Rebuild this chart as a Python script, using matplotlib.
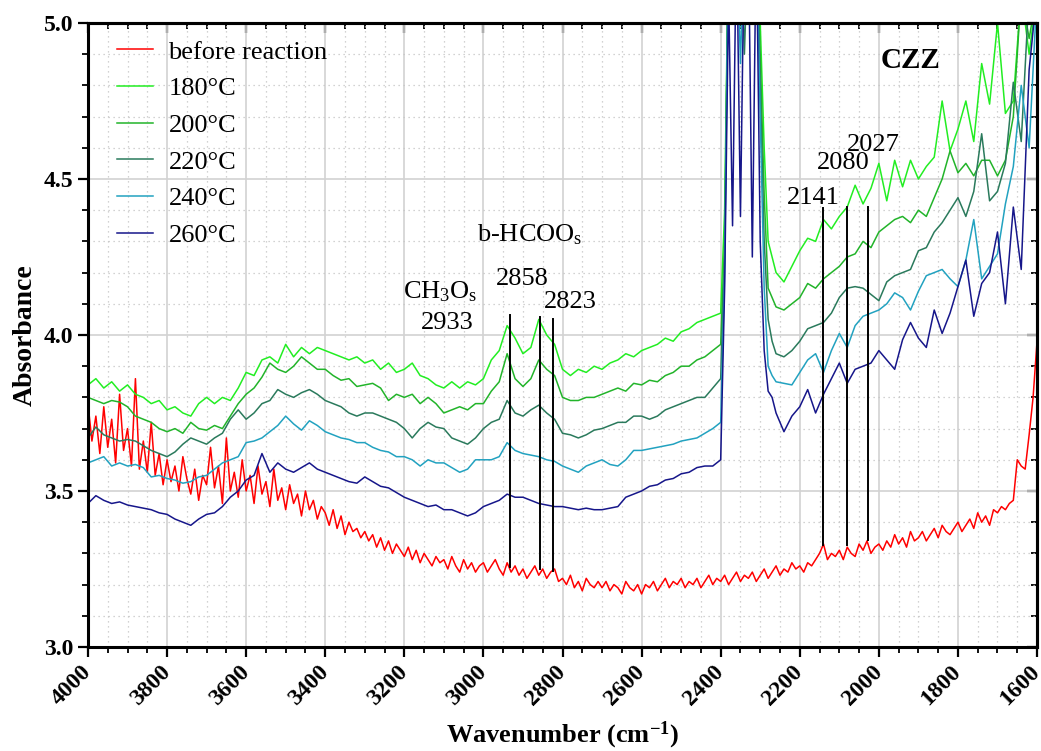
import matplotlib
matplotlib.use("Agg")
import matplotlib.pyplot as plt
import numpy as np
from matplotlib.ticker import MultipleLocator

plt.rcParams.update({
    "font.family": "Liberation Serif", "font.size": 19,
    "mathtext.fontset": "custom", "mathtext.rm": "Liberation Serif",
    "mathtext.it": "Liberation Serif:italic", "mathtext.bf": "Liberation Serif:bold",
})

# ---------- data ----------
# temperature spectra share one wavenumber grid
wn_left = np.arange(4000, 2400, -20)                     # 4000 .. 2420
wn_co2 = np.array([2400, 2390, 2380, 2370, 2360, 2350, 2340, 2330,
                   2320, 2310, 2300, 2290, 2280, 2270, 2260])
wn_right = np.arange(2240, 1590, -20)                    # 2240 .. 1600
wn = np.concatenate([wn_left, wn_co2, wn_right])

a180 = [3.84, 3.86, 3.83, 3.85, 3.82, 3.84, 3.81, 3.80, 3.78, 3.79,
        3.76, 3.77, 3.75, 3.74, 3.78, 3.80, 3.78, 3.80, 3.79, 3.83,
        3.88, 3.87, 3.92, 3.93, 3.91, 3.97, 3.93, 3.96, 3.94, 3.96,
        3.95, 3.94, 3.93, 3.92, 3.93, 3.91, 3.92, 3.89, 3.91, 3.88,
        3.89, 3.91, 3.87, 3.86, 3.84, 3.83, 3.85, 3.83, 3.85, 3.84,
        3.86, 3.92, 3.95, 4.03, 3.99, 3.94, 3.96, 4.05, 4.00, 3.97,
        3.89, 3.87, 3.89, 3.88, 3.90, 3.89, 3.91, 3.92, 3.94, 3.93,
        3.95, 3.96, 3.97, 3.99, 3.98, 4.01, 4.02, 4.04, 4.05, 4.06,
        4.07, 4.40, 5.3, 5.3, 5.3, 5.3, 5.3, 5.3, 5.3, 5.3, 5.0, 4.60, 4.30, 4.25, 4.20,
        4.17, 4.22, 4.27, 4.31, 4.30, 4.37, 4.34, 4.38, 4.41, 4.48,
        4.42, 4.47, 4.55, 4.43, 4.56, 4.475, 4.56, 4.50, 4.54, 4.57,
        4.75, 4.59, 4.66, 4.75, 4.62, 4.87, 4.74, 5.0, 4.71, 4.75,
        5.1, 4.90, 5.1]
a200 = [3.80, 3.79, 3.78, 3.79, 3.785, 3.77, 3.74, 3.73, 3.72, 3.70,
        3.69, 3.70, 3.685, 3.72, 3.70, 3.695, 3.71, 3.70, 3.74, 3.78,
        3.81, 3.83, 3.865, 3.91, 3.89, 3.88, 3.90, 3.93, 3.91, 3.89,
        3.89, 3.87, 3.855, 3.86, 3.835, 3.84, 3.845, 3.83, 3.79, 3.81,
        3.80, 3.81, 3.78, 3.80, 3.78, 3.75, 3.76, 3.77, 3.76, 3.78,
        3.78, 3.82, 3.85, 3.94, 3.86, 3.835, 3.86, 3.92, 3.89, 3.87,
        3.80, 3.79, 3.79, 3.80, 3.80, 3.81, 3.82, 3.83, 3.82, 3.845,
        3.84, 3.855, 3.85, 3.87, 3.88, 3.90, 3.90, 3.92, 3.93, 3.95,
        3.97, 4.30, 5.3, 5.3, 5.3, 5.3, 5.3, 5.3, 5.3, 5.3, 4.90, 4.45, 4.15, 4.12, 4.09,
        4.08, 4.10, 4.12, 4.165, 4.15, 4.18, 4.20, 4.22, 4.25, 4.26,
        4.30, 4.28, 4.33, 4.35, 4.37, 4.38, 4.36, 4.40, 4.38, 4.44,
        4.50, 4.59, 4.52, 4.55, 4.51, 4.56, 4.56, 4.51, 4.56, 4.70,
        5.1, 4.95, 5.1]
a220 = [3.67, 3.705, 3.68, 3.67, 3.66, 3.665, 3.66, 3.645, 3.63, 3.62,
        3.61, 3.625, 3.65, 3.67, 3.66, 3.65, 3.67, 3.685, 3.73, 3.76,
        3.73, 3.75, 3.78, 3.79, 3.825, 3.81, 3.80, 3.815, 3.825, 3.81,
        3.79, 3.78, 3.77, 3.75, 3.74, 3.75, 3.75, 3.74, 3.73, 3.72,
        3.70, 3.67, 3.70, 3.72, 3.705, 3.70, 3.67, 3.66, 3.65, 3.67,
        3.70, 3.72, 3.73, 3.79, 3.75, 3.74, 3.76, 3.775, 3.75, 3.73,
        3.685, 3.68, 3.67, 3.68, 3.695, 3.70, 3.71, 3.72, 3.72, 3.74,
        3.74, 3.73, 3.74, 3.76, 3.77, 3.78, 3.79, 3.80, 3.80, 3.83,
        3.86, 4.25, 5.3, 5.3, 5.3, 5.3, 4.90, 5.3, 5.3, 5.3, 4.80, 4.30, 4.05, 3.98, 3.94,
        3.93, 3.95, 3.98, 4.02, 4.03, 4.04, 4.07, 4.12, 4.15, 4.155,
        4.15, 4.13, 4.11, 4.17, 4.19, 4.20, 4.21, 4.27, 4.28, 4.33,
        4.36, 4.40, 4.44, 4.38, 4.46, 4.645, 4.43, 4.46, 4.55, 4.81,
        4.62, 5.1, 5.1]
a240 = [3.59, 3.60, 3.61, 3.58, 3.59, 3.58, 3.585, 3.575, 3.545, 3.55,
        3.54, 3.535, 3.525, 3.53, 3.545, 3.55, 3.57, 3.59, 3.60, 3.61,
        3.655, 3.66, 3.67, 3.69, 3.71, 3.74, 3.715, 3.695, 3.725, 3.71,
        3.69, 3.68, 3.67, 3.665, 3.655, 3.655, 3.64, 3.63, 3.625, 3.61,
        3.61, 3.60, 3.58, 3.60, 3.59, 3.59, 3.575, 3.56, 3.57, 3.60,
        3.60, 3.60, 3.61, 3.655, 3.63, 3.62, 3.615, 3.61, 3.60, 3.595,
        3.58, 3.57, 3.56, 3.58, 3.59, 3.60, 3.585, 3.58, 3.60, 3.63,
        3.63, 3.635, 3.64, 3.645, 3.65, 3.66, 3.665, 3.67, 3.685, 3.70,
        3.72, 4.20, 5.3, 5.3, 5.3, 4.87, 5.3, 5.3, 5.3, 5.3, 4.70, 4.15, 3.90, 3.87, 3.85,
        3.845, 3.84, 3.88, 3.92, 3.94, 3.88, 3.95, 4.005, 3.96, 4.03,
        4.06, 4.07, 4.08, 4.10, 4.135, 4.12, 4.08, 4.14, 4.19, 4.20,
        4.21, 4.18, 4.155, 4.24, 4.37, 4.18, 4.22, 4.26, 4.42, 4.54,
        4.80, 4.60, 5.1]
a260 = [3.46, 3.485, 3.47, 3.46, 3.465, 3.455, 3.45, 3.445, 3.44, 3.43,
        3.425, 3.41, 3.40, 3.39, 3.41, 3.425, 3.43, 3.45, 3.48, 3.50,
        3.535, 3.55, 3.62, 3.56, 3.59, 3.57, 3.56, 3.575, 3.59, 3.57,
        3.56, 3.55, 3.54, 3.53, 3.525, 3.545, 3.53, 3.515, 3.51, 3.495,
        3.48, 3.47, 3.46, 3.45, 3.455, 3.44, 3.44, 3.43, 3.42, 3.43,
        3.45, 3.46, 3.47, 3.49, 3.48, 3.48, 3.47, 3.46, 3.455, 3.45,
        3.45, 3.445, 3.44, 3.445, 3.44, 3.44, 3.445, 3.45, 3.48, 3.49,
        3.50, 3.515, 3.52, 3.535, 3.54, 3.555, 3.56, 3.575, 3.58, 3.58,
        3.60, 4.15, 5.1, 4.35, 5.3, 4.38, 5.3, 5.3, 4.25, 5.3, 4.30, 3.95, 3.82, 3.80, 3.75,
        3.69, 3.74, 3.77, 3.825, 3.75, 3.81, 3.86, 3.91, 3.845, 3.89,
        3.90, 3.91, 3.95, 3.92, 3.89, 3.985, 4.04, 3.99, 3.96, 4.08,
        4.005, 4.07, 4.155, 4.24, 4.06, 4.165, 4.20, 4.33, 4.10, 4.41,
        4.21, 4.85, 5.1]

# spectrum before reaction, 10 cm-1 steps
wn_red = np.arange(4000, 1590, -10)
a_red = [3.78, 3.66, 3.74, 3.62, 3.77, 3.64, 3.73, 3.59, 3.81, 3.63,
         3.70, 3.58, 3.86, 3.57, 3.66, 3.56, 3.72, 3.55, 3.62, 3.52,
         3.60, 3.53, 3.58, 3.50, 3.61, 3.54, 3.49, 3.57, 3.47, 3.55,
         3.52, 3.64, 3.51, 3.58, 3.46, 3.67, 3.50, 3.56, 3.48, 3.60,
         3.50, 3.55, 3.46, 3.58, 3.49, 3.53, 3.45, 3.57, 3.47, 3.51,
         3.44, 3.52, 3.46, 3.49, 3.42, 3.50, 3.44, 3.47, 3.41, 3.45,
         3.43, 3.39, 3.44, 3.38, 3.42, 3.36, 3.40, 3.37, 3.38, 3.35,
         3.37, 3.34, 3.36, 3.32, 3.35, 3.31, 3.34, 3.30, 3.33, 3.31,
         3.29, 3.32, 3.28, 3.31, 3.27, 3.30, 3.28, 3.26, 3.29, 3.27,
         3.28, 3.25, 3.29, 3.26, 3.24, 3.28, 3.25, 3.27, 3.24, 3.26,
         3.27, 3.24, 3.26, 3.28, 3.25, 3.23, 3.27, 3.24, 3.26, 3.23,
         3.25, 3.22, 3.24, 3.26, 3.23, 3.25, 3.22, 3.24, 3.25, 3.21,
         3.22, 3.20, 3.23, 3.19, 3.21, 3.18, 3.22, 3.20, 3.19, 3.21,
         3.19, 3.21, 3.18, 3.20, 3.19, 3.17, 3.21, 3.19, 3.18, 3.20,
         3.17, 3.20, 3.19, 3.21, 3.18, 3.20, 3.22, 3.19, 3.21, 3.20,
         3.22, 3.19, 3.21, 3.20, 3.22, 3.19, 3.21, 3.23, 3.20, 3.22,
         3.21, 3.23, 3.20, 3.22, 3.24, 3.21, 3.23, 3.22, 3.24, 3.21,
         3.23, 3.25, 3.22, 3.24, 3.26, 3.23, 3.25, 3.24, 3.27, 3.25,
         3.26, 3.24, 3.27, 3.26, 3.28, 3.30, 3.33, 3.28, 3.30, 3.29,
         3.31, 3.28, 3.32, 3.30, 3.29, 3.33, 3.31, 3.34, 3.30, 3.32,
         3.33, 3.31, 3.34, 3.32, 3.36, 3.33, 3.35, 3.32, 3.37, 3.34,
         3.35, 3.37, 3.34, 3.36, 3.38, 3.35, 3.39, 3.37, 3.36, 3.38,
         3.40, 3.37, 3.39, 3.41, 3.38, 3.43, 3.40, 3.42, 3.39, 3.44,
         3.43, 3.45, 3.44, 3.46, 3.47, 3.60, 3.58, 3.57, 3.68, 3.80,
         3.98]

labels = ["before reaction", "180°C", "200°C", "220°C", "240°C", "260°C"]
colors = ["#ff0000", "#22ee22", "#22b42a", "#2a7a5c", "#22a2c0", "#16168a"]

# assigned bands: wavenumber, line bottom, line top
peaks = [2933, 2858, 2823, 2141, 2080, 2027]
peak_lo = [3.256, 3.25, 3.245, 3.327, 3.327, 3.343]
peak_hi = [4.064, 4.058, 4.05, 4.407, 4.41, 4.41]
# peak labels: text, x (cm-1), y
ann_txt = ["2933", "2858", "2823", "2141", "2080", "2027",
           r"CH$_3$O$_\mathrm{s}$", r"b-HCOO$_\mathrm{s}$"]
ann_x = [3092, 2902, 2779, 2166, 2091, 2015, 3110, 2882]
ann_y = [4.04, 4.18, 4.105, 4.44, 4.55, 4.61, 4.14, 4.32]

# ---------- figure ----------
fig = plt.figure(figsize=(10.41, 7.51), dpi=100)
ax = fig.add_axes([0.0845, 0.1385, 0.9117, 0.8309])

ax.plot(wn_red, a_red, color=colors[0], lw=1.1, label=labels[0])
for a, lab, c in zip([a180, a200, a220, a240, a260], labels[1:], colors[1:]):
    ax.plot(wn, a, color=c, lw=1.1, label=lab)

for p, lo, hi in zip(peaks, peak_lo, peak_hi):
    ax.plot([p, p], [lo, hi], color="black", lw=1.4)
for t, x, y in zip(ann_txt, ann_x, ann_y):
    ax.text(x, y, t, ha="center", va="center", fontsize=19)
ax.text(1921, 4.88, "CZZ", ha="center", va="center", fontsize=21, fontweight="bold")

ax.set_xlim(4000, 1600)
ax.set_ylim(3.0, 5.0)
ax.xaxis.set_major_locator(MultipleLocator(200))
ax.xaxis.set_minor_locator(MultipleLocator(50))
ax.yaxis.set_major_locator(MultipleLocator(0.5))
ax.yaxis.set_minor_locator(MultipleLocator(0.1))
ax.yaxis.set_major_formatter(matplotlib.ticker.FormatStrFormatter("%.1f"))

ax.grid(which="major", color="#d2d2d2", lw=1.2, ls="-")
ax.grid(which="minor", color="#c4c4c4", lw=0.9, ls=(0, (1, 3)))
ax.set_axisbelow(True)

ax.tick_params(which="major", direction="out", length=7, width=1.6, labelsize=17)
ax.tick_params(which="minor", direction="out", length=4, width=1.3)
for lab in ax.get_xticklabels():
    lab.set_rotation(45); lab.set_ha("right"); lab.set_va("center")
    lab.set_rotation_mode("anchor"); lab.set_fontweight("bold")
for lab in ax.get_yticklabels():
    lab.set_fontweight("bold")
ax.tick_params(axis="x", pad=9)

# mirrored inward ticks on top and right
top = ax.secondary_xaxis("top")
top.xaxis.set_major_locator(MultipleLocator(200))
top.xaxis.set_minor_locator(MultipleLocator(50))
top.tick_params(which="major", direction="in", length=7, width=1.6, labeltop=False)
top.tick_params(which="minor", direction="in", length=4, width=1.3)
right = ax.secondary_yaxis("right")
right.yaxis.set_major_locator(MultipleLocator(0.5))
right.yaxis.set_minor_locator(MultipleLocator(0.1))
right.tick_params(which="major", direction="in", length=7, width=1.6, labelright=False)
right.tick_params(which="minor", direction="in", length=4, width=1.3)
for s in list(ax.spines.values()) + [top.spines["top"], right.spines["right"]]:
    s.set_linewidth(2.2)

ax.set_xlabel(r"Wavenumber (cm$^{\mathbf{-1}}$)", fontsize=19, fontweight="bold", labelpad=7)
ax.set_ylabel("Absorbance", fontsize=20, fontweight="bold", labelpad=4)

ax.legend(loc="upper left", bbox_to_anchor=(0.0125, 1.0), frameon=False,
          fontsize=19, handlelength=1.35, handletextpad=0.6, labelspacing=0.5,
          borderaxespad=0.25)

plt.savefig("out.png", dpi=100)
plt.close()
